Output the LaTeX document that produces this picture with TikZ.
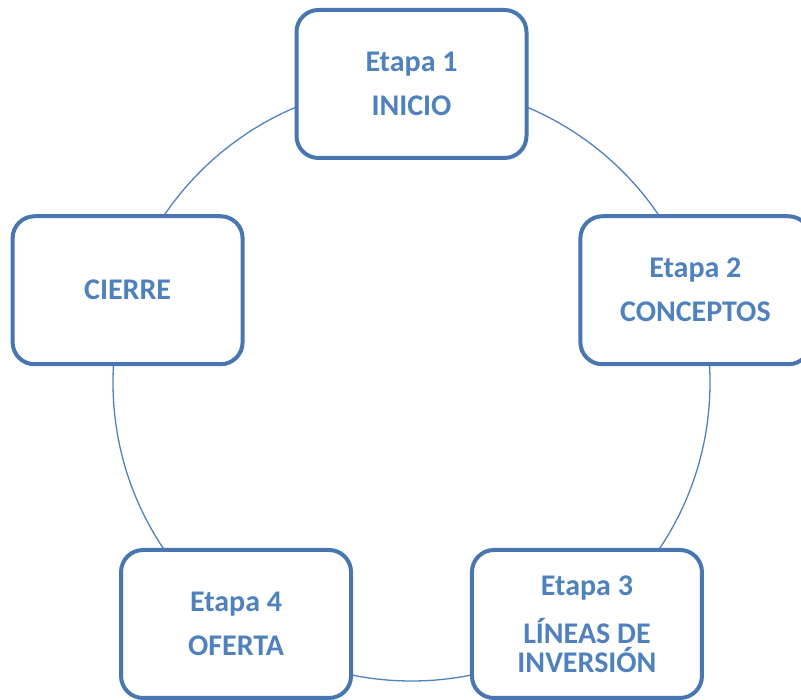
\documentclass[tikz,border=0pt]{standalone}
\usepackage{fontspec}
\setmainfont{Carlito}
\usetikzlibrary{positioning, calc}
\definecolor{stageline}{RGB}{71,118,176}
\definecolor{stagetext}{RGB}{79,129,189}
\tikzset{
	stage/.style={draw=stageline, line width=4pt, fill=white, rounded corners=22pt,
		minimum width=230pt, minimum height=148pt, inner sep=0pt, align=center,
		text=stagetext, font=\fontsize{30}{29}\selectfont\bfseries},
	ring/.style={draw=stagetext, line width=1.3pt}
}
\begin{document}
\begin{tikzpicture}[x=1pt, y=1pt]
	\useasboundingbox (0,0) rectangle (801,700);
	
	% --- Cycle ---
	\coordinate (centre) at (411.5,317.5);
	\draw[ring] (centre) circle (298.5);
	
	% --- Stages ---
	\node[stage] (etapa1) at ($(centre)+(90:298.5)$) {Etapa 1\\[15pt]INICIO};
	\node[stage] (etapa2) at ($(centre)+(18:298.5)$) {Etapa 2\\[15pt]CONCEPTOS};
	\node[stage] (etapa3) at ($(centre)+(-54:298.5)$) {Etapa 3\\[17pt]LÍNEAS DE\\INVERSIÓN};
	\node[stage] (etapa4) at ($(centre)+(-126:298.5)$) {Etapa 4\\[15pt]OFERTA};
	\node[stage] (cierre) at ($(centre)+(162:298.5)$) {CIERRE};
\end{tikzpicture}
\end{document}
